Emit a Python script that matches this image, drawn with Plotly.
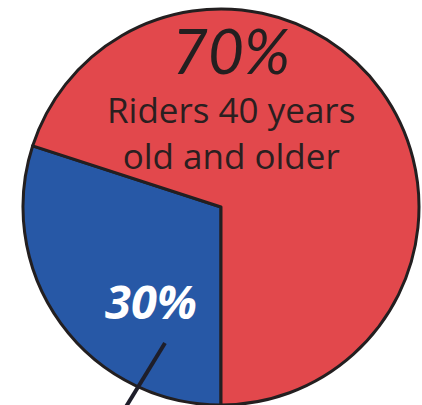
import plotly.graph_objects as go

# Data
labels = ["Riders under 40", "Riders 40 years old and older"]
values = [30, 70]
colors = ["#2758A6", "#E2484C"]
main_label = "Riders 40 years<br>old and older"

total = sum(values)
pcts = [f"{round(v / total * 100)}%" for v in values]

W, H = 422, 405
cx, cy, r = 221, 207, 198  # pixel layout of the pie

fig = go.Figure(go.Pie(
    labels=labels,
    values=values,
    sort=False,
    direction="clockwise",
    rotation=180,
    marker=dict(colors=colors, line=dict(color="#231F20", width=3)),
    textinfo="none",
    hoverinfo="label+percent",
    showlegend=False,
    domain=dict(x=[(cx - r) / W, (cx + r) / W], y=[(H - cy - r) / H, (H - cy + r) / H]),
))


def px(x):
    return x / W


def py(y):
    return 1 - y / H


fig.add_annotation(x=px(231), y=py(50), xref="paper", yref="paper",
                   text=f"<i>{pcts[1]}</i>", showarrow=False,
                   font=dict(family="Lato", size=62, color="#231F20"),
                   xanchor="center", yanchor="middle")
fig.add_annotation(x=px(231), y=py(132), xref="paper", yref="paper",
                   text=main_label, showarrow=False,
                   font=dict(family="Open Sans", size=35, color="#2A1F20"),
                   xanchor="center", yanchor="middle")
fig.add_annotation(x=px(151), y=py(301), xref="paper", yref="paper",
                   text=f"<b><i>{pcts[0]}</i></b>", showarrow=False,
                   font=dict(family="Open Sans", size=47, color="#FFFFFF"),
                   xanchor="center", yanchor="middle")

fig.add_shape(type="line", xref="paper", yref="paper",
              x0=px(165), y0=py(343), x1=px(124), y1=py(410),
              line=dict(color="#1E1E2A", width=4))

fig.update_layout(
    width=W, height=H,
    margin=dict(l=0, r=0, t=0, b=0),
    paper_bgcolor="white",
    plot_bgcolor="white",
)

fig.write_html(
    "out.html",
    config={"displayModeBar": False},
    post_script="document.body.style.margin='0';document.body.style.overflow='hidden';",
)
